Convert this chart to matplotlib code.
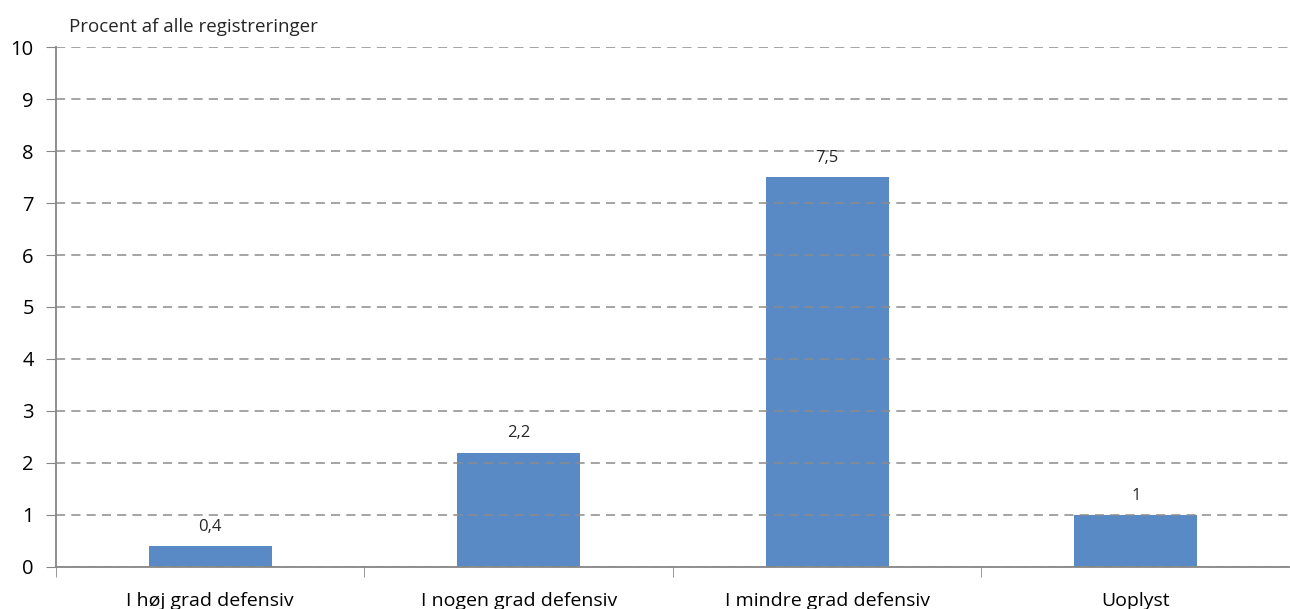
import matplotlib.pyplot as plt
import numpy as np

categories = ['I høj grad defensiv', 'I nogen grad defensiv', 'I mindre grad defensiv', 'Uoplyst']
values = [0.4, 2.2, 7.5, 1]
labels = ['0,4', '2,2', '7,5', '1']

plt.rcParams['font.family'] = ['Open Sans', 'DejaVu Sans']

fig = plt.figure(figsize=(12.9, 6.09), dpi=100)
ax = fig.add_axes([0.0434, 0.069, 0.9566, 0.8538])

x = np.arange(len(categories))
ax.bar(x, values, width=0.4, color='#5A8AC6', zorder=1)
for i, v in enumerate(values):
    ax.annotate(labels[i], (x[i], v), xytext=(0, 8), textcoords='offset points',
                ha='center', va='bottom', fontsize=12, color='#262626')

ax.set_xlim(-0.5, len(categories) - 0.5)
ax.set_ylim(0, 10)
ax.set_yticks(range(0, 11))
ax.yaxis.grid(True, linestyle=(0, (6, 4)), color='#8c8c8c', linewidth=1.1, zorder=2)
ax.set_axisbelow(False)

ax.set_xticks(x)
ax.set_xticklabels(categories, fontsize=14)
ax.set_xticks(np.arange(-0.5, len(categories)), minor=True)
ax.tick_params(axis='x', which='major', length=0, pad=18)
ax.tick_params(axis='x', which='minor', length=7, color='#868686', direction='out')
ax.tick_params(axis='y', length=7, color='#868686', labelsize=14.5, pad=9)

for side in ['top', 'right']:
    ax.spines[side].set_visible(False)
for side in ['left', 'bottom']:
    ax.spines[side].set_color('#868686')
    ax.spines[side].set_linewidth(1.3)

fig.text(0.0535, 0.947, 'Procent af alle registreringer', fontsize=13.5, color='#262626')

fig.savefig('out.png', dpi=100)
